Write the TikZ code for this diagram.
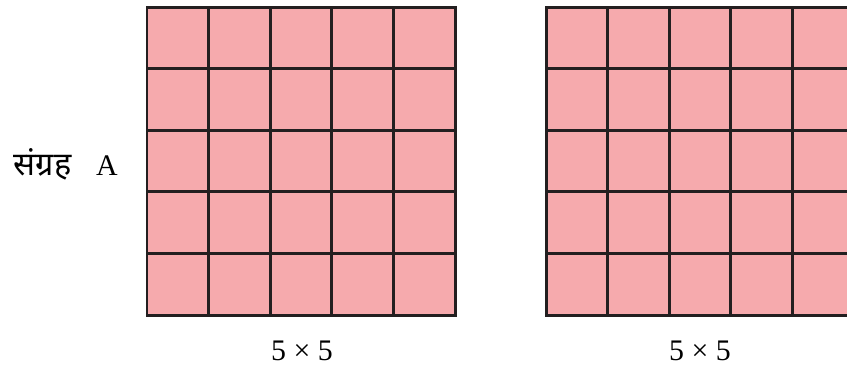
\documentclass[tikz,border=0pt]{standalone}
\usepackage{fontspec}
\setmainfont{Liberation Serif}
\newfontfamily\hindifont[Script=Devanagari]{Noto Sans}
\usetikzlibrary{positioning}
\definecolor{tilepink}{RGB}{246,170,173}
\definecolor{gridline}{RGB}{35,31,32}

\begin{document}
\begin{tikzpicture}[
    x=0.02cm, y=-0.02cm,
    tile/.style={fill=tilepink, draw=gridline, line width=1.7pt},
    textlabel/.style={font=\fontsize{17}{20}\selectfont, inner sep=0pt, anchor=base}
  ]
    \useasboundingbox (0,0) rectangle (847,370);

    % Square A (left)
    \foreach \i in {0,...,4}
      \foreach \j in {0,...,4}
        \draw[tile] ({147+61.6*\i},{7+61.6*\j}) rectangle ++(61.6,61.6);

    % Second square (right, runs off the page)
    \foreach \i in {0,...,4}
      \foreach \j in {0,...,4}
        \draw[tile] ({546+61.6*\i},{7+61.6*\j}) rectangle ++(61.6,61.6);

    % Labels
    \node[textlabel] (setA) at (107,175) {A};
    \node[textlabel, left=0.48cm of setA.base west, anchor=base east] (setname)
      {\fontsize{18.5}{20}\selectfont\hindifont संग्रह};
    \node[textlabel] (sizeleft) at (302,360) {5 × 5};
    \node[textlabel] (sizeright) at (700,360) {5 × 5};
  \end{tikzpicture}
\end{document}
